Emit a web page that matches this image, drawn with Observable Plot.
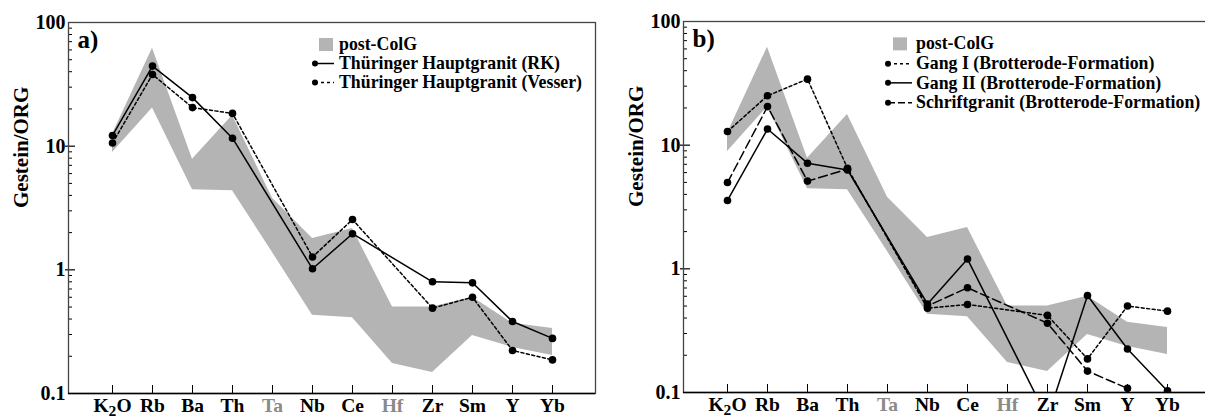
<!DOCTYPE html>
<html><head><meta charset="utf-8">
<script src="https://cdn.jsdelivr.net/npm/d3@7"></script>
<script src="https://cdn.jsdelivr.net/npm/@observablehq/plot@0.6"></script>
<style>
html,body{margin:0;padding:0;background:#fff;overflow:hidden;}
#wrap{position:relative;width:1205px;height:419px;overflow:hidden;font-family:"Liberation Serif","Times New Roman",serif;font-weight:bold;}
.panel{position:absolute;top:0;}
.legend{position:absolute;font-size:17.8px;color:#000;}
.legend .row{display:flex;align-items:center;white-space:nowrap;}
.legend svg{flex:none;margin-right:3px;}
</style></head>
<body><div id="wrap"></div>
<script>
// ---- data ----
const elements = ["K2O","Rb","Ba","Th","Ta","Nb","Ce","Hf","Zr","Sm","Y","Yb"];
const greyElements = ["Ta","Hf"];
const yTickValues = [0.1, 1, 10, 100];
const yMinorTicks = [0.2,0.3,0.4,0.5,0.6,0.7,0.8,0.9,2,3,4,5,6,7,8,9,20,30,40,50,60,70,80,90];
const yMajorTicks = [1, 10];

// post-ColG field (upper / lower boundary)
const postColGUpper = [12.5, 62, 7.85, 17.7, 3.8, 1.79, 2.16, 0.50, 0.50, 0.60, 0.37, 0.335];
const postColGLower = [8.9, 20.4, 4.45, 4.35, 1.38, 0.43, 0.41, 0.175, 0.148, 0.295, 0.236, 0.203];

// panel a
const hauptgranitRK     = [12.2, 44.4, 24.7, 11.6, null, 1.02, 1.96, null, 0.80, 0.785, 0.382, 0.279];
const hauptgranitVesser = [10.6, 38.0, 20.5, 18.4, null, 1.27, 2.55, null, 0.49, 0.60, 0.223, 0.187];
// panel b
const gangI        = [12.9, 25.1, 34.2, 6.5, null, 0.48, 0.515, null, 0.42, 0.187, 0.50, 0.455];
const gangII       = [3.57, 13.5, 7.15, 6.3, null, 0.52, 1.20, null, 0.062, 0.609, 0.225, 0.103];
const schriftgranit= [4.99, 20.5, 5.12, 6.4, null, 0.50, 0.703, null, 0.363, 0.149, 0.108, null];

const seriesA = [
  {name: "Thüringer Hauptgranit (RK)", values: hauptgranitRK, dash: null},
  {name: "Thüringer Hauptgranit (Vesser)", values: hauptgranitVesser, dash: "3,2.5"}
];
const seriesB = [
  {name: "Gang I (Brotterode-Formation)", values: gangI, dash: "3,2.5"},
  {name: "Gang II (Brotterode-Formation)", values: gangII, dash: null},
  {name: "Schriftgranit (Brotterode-Formation)", values: schriftgranit, dash: "9,4"}
];

const W = 600, ML = 68, MR = 5, H = 419;
const frameW = W - ML - MR;

function makePanel(letter, series, marginTop) {
  const marginBottom = H - marginTop - 371;
  const frameH = H - marginTop - marginBottom;
  const band = elements.map((e, i) => ({el: e, lo: postColGLower[i], hi: postColGUpper[i]}));
  const marks = [
    Plot.areaY(band, {x: "el", y1: "lo", y2: "hi", fill: "#b4b4b4"}),
  ];
  for (const s of series) {
    const data = elements.map((e, i) => ({el: e, v: s.values[i]})).filter(d => d.v != null);
    marks.push(Plot.line(data, {x: "el", y: "v", stroke: "black", strokeWidth: 1.5,
      strokeDasharray: s.dash || undefined, clip: true}));
    marks.push(Plot.dot(data, {x: "el", y: "v", r: 3.8, fill: "black", stroke: "none", clip: true}));
  }
  marks.push(
    Plot.ruleY(yMinorTicks, {y: d => d, insetRight: frameW - 4, stroke: "black", strokeWidth: 1}),
    Plot.ruleY(yMajorTicks, {y: d => d, insetRight: frameW - 7, insetLeft: -3, stroke: "black", strokeWidth: 1.2}),
    Plot.ruleX(elements, {x: d => d, insetTop: frameH - 8, stroke: "black", strokeWidth: 1}),
    Plot.frame({stroke: "#444", strokeWidth: 1.3}),
    Plot.ruleY([0.1], {y: d => d, stroke: "black", strokeWidth: 1.6}),
    Plot.axisY(yTickValues, {tickSize: 0, tickPadding: 3, fontSize: 20, tickFormat: d => String(d), label: null}),
    Plot.axisX(elements.filter(e => !greyElements.includes(e)), {tickSize: 0, tickPadding: 5, fontSize: 19.5, label: null}),
    Plot.axisX(greyElements, {tickSize: 0, tickPadding: 5, fontSize: 19.5, label: null, color: "#8a8a8a"}),
    Plot.text(["Gestein/ORG"], {frameAnchor: "left", dx: -47, rotate: -90, fontSize: 21}),
    Plot.text([letter + ")"], {frameAnchor: "top-left", dx: 9, dy: 8, lineAnchor: "top", textAnchor: "start", fontSize: 25})
  );
  const svg = Plot.plot({
    width: W, height: H,
    marginLeft: ML, marginRight: MR, marginTop, marginBottom,
    x: {type: "point", domain: elements, padding: 1},
    y: {type: "log", domain: [0.1, 100]},
    style: {fontFamily: '"Liberation Serif", "Times New Roman", serif', fontWeight: "bold", background: "transparent", color: "black"},
    marks
  });
  d3.select(svg).selectAll("text").filter(function() { return this.textContent === "K2O"; }).each(function() {
    const t = d3.select(this);
    t.text(null);
    t.append("tspan").text("K");
    t.append("tspan").attr("dy", "3.5").attr("font-size", "0.8em").text("2");
    t.append("tspan").attr("dy", "-3.5").text("O");
  });
  return svg;
}

function makeLegend(series, left, top, rowH, svgW, lineEnd, squareX) {
  const div = document.createElement("div");
  div.className = "legend";
  div.style.left = left + "px";
  div.style.top = top + "px";
  const rows = [{name: "post-ColG", type: "band"}, ...series.map(s => ({...s, type: "line"}))];
  for (const r of rows) {
    const row = document.createElement("div");
    row.className = "row";
    row.style.height = rowH + "px";
    const ns = "http://www.w3.org/2000/svg";
    const sv = document.createElementNS(ns, "svg");
    sv.setAttribute("width", svgW); sv.setAttribute("height", rowH);
    if (r.type === "band") {
      const rect = document.createElementNS(ns, "rect");
      rect.setAttribute("x", squareX); rect.setAttribute("y", rowH / 2 - 6.5);
      rect.setAttribute("width", 14); rect.setAttribute("height", 13);
      rect.setAttribute("fill", "#b4b4b4");
      sv.appendChild(rect);
    } else {
      const ln = document.createElementNS(ns, "line");
      ln.setAttribute("x1", 3); ln.setAttribute("x2", lineEnd);
      ln.setAttribute("y1", rowH / 2); ln.setAttribute("y2", rowH / 2);
      ln.setAttribute("stroke", "black"); ln.setAttribute("stroke-width", 1.5);
      if (r.dash) ln.setAttribute("stroke-dasharray", r.dash === "9,4" ? "7,3" : "3,3");
      sv.appendChild(ln);
      const c = document.createElementNS(ns, "circle");
      c.setAttribute("cx", 3); c.setAttribute("cy", rowH / 2); c.setAttribute("r", 3);
      sv.appendChild(c);
    }
    row.appendChild(sv);
    const sp = document.createElement("span");
    sp.textContent = r.name;
    row.appendChild(sp);
    div.appendChild(row);
  }
  return div;
}

const wrap = document.getElementById("wrap");
const a = makePanel("a", seriesA, 22);
a.classList.add("panel"); a.style.left = "0px";
wrap.appendChild(a);
const b = makePanel("b", seriesB, 21);
b.classList.add("panel"); b.style.left = "615px";
wrap.appendChild(b);
wrap.appendChild(makeLegend(seriesA, 312, 35, 19, 24, 22, 7));
wrap.appendChild(makeLegend(seriesB, 885, 34, 19.7, 28, 27, 8));
</script>
</body></html>
